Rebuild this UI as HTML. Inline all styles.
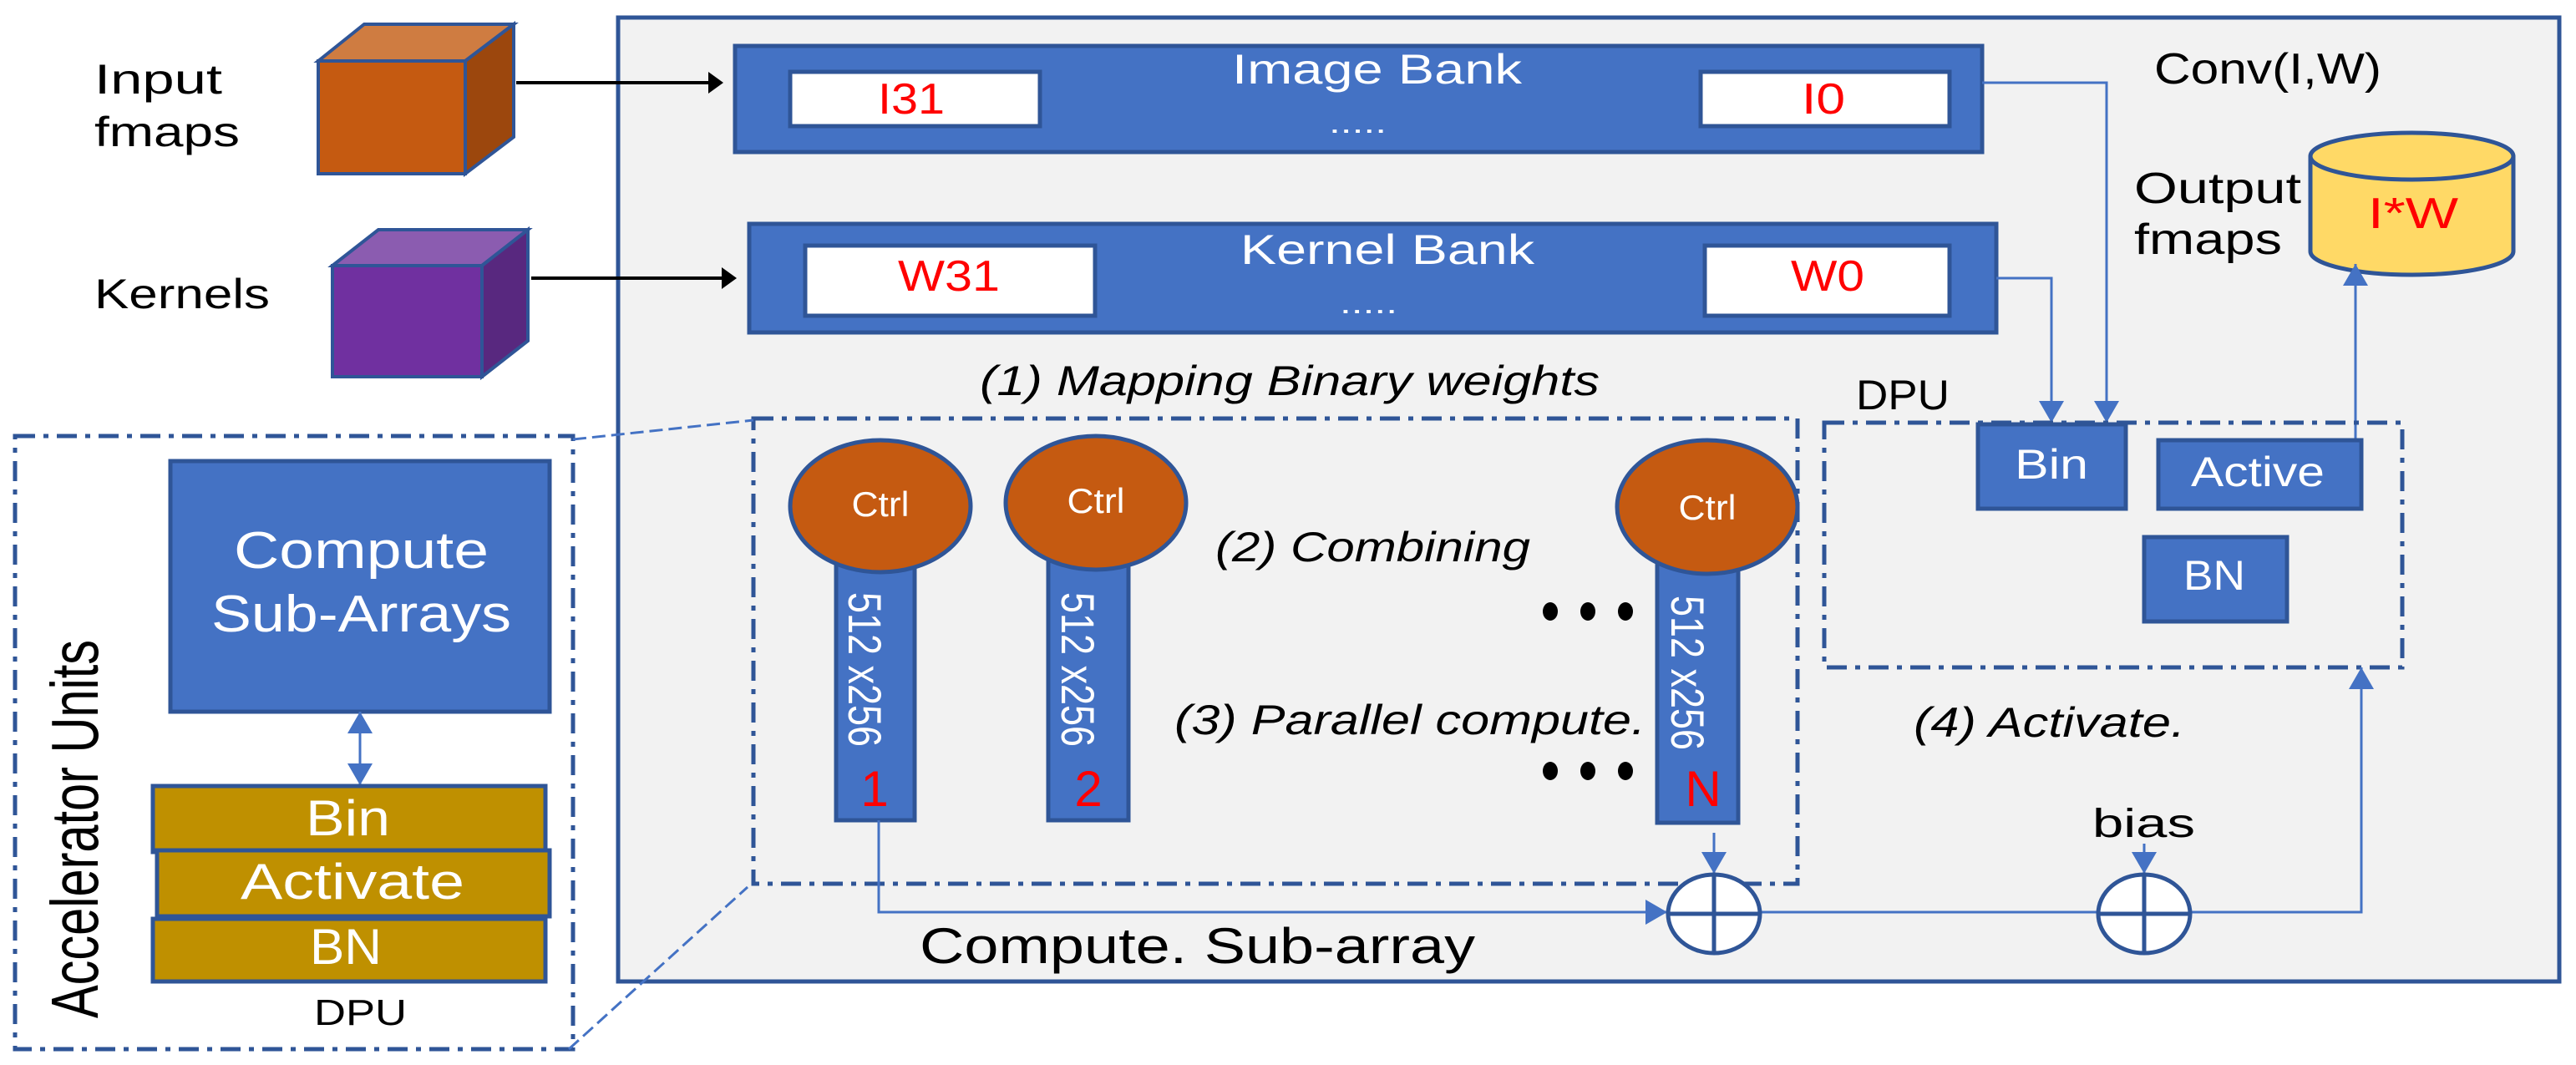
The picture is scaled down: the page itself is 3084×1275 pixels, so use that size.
<!DOCTYPE html>
<html><head><meta charset="utf-8"><style>
html,body{margin:0;padding:0;background:#fff;}
svg{display:block;}
text{font-family:"Liberation Sans",sans-serif;}
</style></head><body>
<svg width="3084" height="1275" viewBox="0 0 3084 1275" xmlns="http://www.w3.org/2000/svg">
<defs>
<marker id="bl" markerWidth="26" markerHeight="30" refX="26" refY="15" orient="auto" markerUnits="userSpaceOnUse" viewBox="0 0 26 30"><path d="M0,0 L26,15 L0,30 z" fill="#4472C4"/></marker>
</defs>
<rect x="740" y="21" width="2324" height="1154" fill="#F2F2F2" stroke="#2F5597" stroke-width="5"/>

<g stroke="#2F5597" stroke-width="4" stroke-linejoin="miter">
<polygon points="381,73 436,29 615,29 557,73" fill="#CF7C41"/>
<polygon points="557,73 615,29 615,164 557,208" fill="#9C470D"/>
<rect x="381" y="73" width="176" height="135" fill="#C55A11"/>
<polygon points="398,318 453,275 632,275 577,318" fill="#8B5CB0"/>
<polygon points="577,318 632,275 632,408 577,451" fill="#58287F"/>
<rect x="398" y="318" width="179" height="133" fill="#7030A0"/>
</g>
<text x="113" y="112" font-size="50" textLength="153" lengthAdjust="spacingAndGlyphs">Input</text>
<text x="113" y="175" font-size="50" textLength="174" lengthAdjust="spacingAndGlyphs">fmaps</text>
<text x="113" y="369" font-size="50" textLength="210" lengthAdjust="spacingAndGlyphs">Kernels</text>
<line x1="618" y1="99" x2="850" y2="99" stroke="#000" stroke-width="4"/>
<path d="M848,86 L866,99 L848,112 z" fill="#000"/>
<line x1="636" y1="333" x2="866" y2="333" stroke="#000" stroke-width="4"/>
<path d="M864,320 L882,333 L864,346 z" fill="#000"/>

<g stroke="#2F5597" stroke-width="5">
<rect x="880" y="55" width="1493" height="127" fill="#4472C4"/>
<rect x="946" y="86" width="299" height="65" fill="#fff"/>
<rect x="2036" y="86" width="298" height="65" fill="#fff"/>
<rect x="897" y="268" width="1493" height="130" fill="#4472C4"/>
<rect x="964" y="294" width="347" height="84" fill="#fff"/>
<rect x="2041" y="294" width="293" height="84" fill="#fff"/>
</g>
<text x="1475" y="100" font-size="50" fill="#fff" textLength="347" lengthAdjust="spacingAndGlyphs">Image Bank</text>
<text x="1591" y="159" font-size="36" fill="#fff" textLength="69" lengthAdjust="spacingAndGlyphs">.....</text>
<text x="1485" y="316" font-size="50" fill="#fff" textLength="352" lengthAdjust="spacingAndGlyphs">Kernel Bank</text>
<text x="1604" y="375" font-size="36" fill="#fff" textLength="69" lengthAdjust="spacingAndGlyphs">.....</text>
<text x="1091" y="136" font-size="52" fill="#FF0000" text-anchor="middle" textLength="80" lengthAdjust="spacingAndGlyphs">I31</text>
<text x="2183" y="136" font-size="52" fill="#FF0000" text-anchor="middle" textLength="52" lengthAdjust="spacingAndGlyphs">I0</text>
<text x="1136" y="348" font-size="52" fill="#FF0000" text-anchor="middle" textLength="122" lengthAdjust="spacingAndGlyphs">W31</text>
<text x="2188" y="348" font-size="52" fill="#FF0000" text-anchor="middle" textLength="88" lengthAdjust="spacingAndGlyphs">W0</text>

<text x="1173" y="473" font-size="50" font-style="italic" textLength="742" lengthAdjust="spacingAndGlyphs">(1) Mapping Binary weights</text>
<text x="2579" y="100" font-size="52" textLength="272" lengthAdjust="spacingAndGlyphs">Conv(I,W)</text>
<text x="2555" y="243" font-size="52" textLength="200" lengthAdjust="spacingAndGlyphs">Output</text>
<text x="2555" y="304" font-size="52" textLength="177" lengthAdjust="spacingAndGlyphs">fmaps</text>

<g stroke="#2F5597" stroke-width="5">
<path d="M2766,187 L2766,301 A121.5,28 0 0 0 3009,301 L3009,187" fill="#FFD966"/>
<ellipse cx="2887.5" cy="187" rx="121.5" ry="28" fill="#FFD966"/>
</g>
<text x="2835" y="273" font-size="52" fill="#FF0000" textLength="108" lengthAdjust="spacingAndGlyphs">I*W</text>

<g stroke="#4472C4" stroke-width="3" fill="none">
<polyline points="2373,99 2522,99 2522,506" marker-end="url(#bl)"/>
<polyline points="2390,333 2456,333 2456,506" marker-end="url(#bl)"/>
<line x1="2820" y1="527" x2="2820" y2="316" marker-end="url(#bl)"/>
</g>
<text x="2222" y="490" font-size="50" textLength="112" lengthAdjust="spacingAndGlyphs">DPU</text>

<g fill="none" stroke="#2F5597" stroke-width="5" stroke-dasharray="24 10 6 10">
<rect x="2184" y="506" width="692" height="293"/>
<rect x="902" y="501" width="1250" height="557"/>
<rect x="18" y="522" width="668" height="734"/>
</g>
<g stroke="#4472C4" stroke-width="3" stroke-dasharray="16 7" fill="none">
<line x1="686" y1="526" x2="902" y2="503"/>
<line x1="681" y1="1256" x2="895" y2="1062"/>
</g>
<g stroke="#2F5597" stroke-width="5" fill="#4472C4">
<rect x="2368" y="508" width="177" height="101"/>
<rect x="2584" y="527" width="243" height="82"/>
<rect x="2567" y="643" width="171" height="101"/>
</g>
<text x="2412" y="573" font-size="50" fill="#fff" textLength="88" lengthAdjust="spacingAndGlyphs">Bin</text>
<text x="2623" y="582" font-size="50" fill="#fff" textLength="160" lengthAdjust="spacingAndGlyphs">Active</text>
<text x="2614" y="706" font-size="50" fill="#fff" textLength="74" lengthAdjust="spacingAndGlyphs">BN</text>

<g stroke="#2F5597" stroke-width="5">
<rect x="1001" y="640" width="94" height="342" fill="#4472C4"/>
<rect x="1255" y="640" width="96" height="342" fill="#4472C4"/>
<rect x="1984" y="640" width="97" height="345" fill="#4472C4"/>
<ellipse cx="1054" cy="606" rx="108" ry="79" fill="#C55A11"/>
<ellipse cx="1312" cy="602" rx="108" ry="80" fill="#C55A11"/>
<ellipse cx="2044" cy="607" rx="108" ry="80" fill="#C55A11"/>
</g>
<text x="1054" y="618" font-size="42" fill="#fff" text-anchor="middle" textLength="69" lengthAdjust="spacingAndGlyphs">Ctrl</text>
<text x="1312" y="614" font-size="42" fill="#fff" text-anchor="middle" textLength="69" lengthAdjust="spacingAndGlyphs">Ctrl</text>
<text x="2044" y="622" font-size="42" fill="#fff" text-anchor="middle" textLength="69" lengthAdjust="spacingAndGlyphs">Ctrl</text>
<text transform="translate(1016,709) rotate(90)" font-size="56" fill="#fff" textLength="185" lengthAdjust="spacingAndGlyphs">512 x256</text>
<text transform="translate(1271,709) rotate(90)" font-size="56" fill="#fff" textLength="185" lengthAdjust="spacingAndGlyphs">512 x256</text>
<text transform="translate(2001,713) rotate(90)" font-size="56" fill="#fff" textLength="185" lengthAdjust="spacingAndGlyphs">512 x256</text>
<text x="1047" y="965" font-size="60" fill="#FF0000" text-anchor="middle">1</text>
<text x="1303" y="965" font-size="60" fill="#FF0000" text-anchor="middle">2</text>
<text x="2039" y="965" font-size="60" fill="#FF0000" text-anchor="middle">N</text>

<text x="1455" y="672" font-size="50" font-style="italic" textLength="377" lengthAdjust="spacingAndGlyphs">(2) Combining</text>
<text x="1406" y="879" font-size="50" font-style="italic" textLength="564" lengthAdjust="spacingAndGlyphs">(3) Parallel compute.</text>
<text x="2291" y="882" font-size="50" font-style="italic" textLength="325" lengthAdjust="spacingAndGlyphs">(4) Activate.</text>
<g fill="#000">
<ellipse cx="1856" cy="732" rx="9" ry="11"/><ellipse cx="1901" cy="732" rx="9" ry="11"/><ellipse cx="1946" cy="732" rx="9" ry="11"/>
<ellipse cx="1856" cy="923" rx="9" ry="11"/><ellipse cx="1901" cy="923" rx="9" ry="11"/><ellipse cx="1946" cy="923" rx="9" ry="11"/>
</g>

<g stroke="#4472C4" stroke-width="3" fill="none">
<polyline points="1052,982 1052,1092 1996,1092" marker-end="url(#bl)"/>
<line x1="2052" y1="997" x2="2052" y2="1046" marker-end="url(#bl)"/>
<line x1="2567" y1="1010" x2="2567" y2="1046" marker-end="url(#bl)"/>
<line x1="2107" y1="1092" x2="2511" y2="1092"/>
<polyline points="2622,1092 2827,1092 2827,799" marker-end="url(#bl)"/>
</g>
<g stroke="#2F5597" stroke-width="5" fill="#fff">
<ellipse cx="2052" cy="1094" rx="55" ry="47"/>
<ellipse cx="2567" cy="1094" rx="55" ry="47"/>
<line x1="1997" y1="1094" x2="2107" y2="1094"/><line x1="2052" y1="1047" x2="2052" y2="1141"/>
<line x1="2512" y1="1094" x2="2622" y2="1094"/><line x1="2567" y1="1047" x2="2567" y2="1141"/>
</g>
<text x="2505" y="1002" font-size="48" textLength="123" lengthAdjust="spacingAndGlyphs">bias</text>
<text x="1101" y="1153" font-size="60" textLength="665" lengthAdjust="spacingAndGlyphs">Compute. Sub-array</text>

<rect x="204" y="552" width="454" height="300" fill="#4472C4" stroke="#2F5597" stroke-width="5"/>
<text x="280" y="680" font-size="62" fill="#fff" textLength="305" lengthAdjust="spacingAndGlyphs">Compute</text>
<text x="253" y="756" font-size="62" fill="#fff" textLength="359" lengthAdjust="spacingAndGlyphs">Sub-Arrays</text>
<g stroke="#4472C4" stroke-width="3" fill="none">
<line x1="431" y1="880" x2="431" y2="940" marker-end="url(#bl)"/>
<line x1="431" y1="910" x2="431" y2="852" marker-end="url(#bl)"/>
</g>
<g stroke="#2F5597" stroke-width="5" fill="#BF9000">
<rect x="183" y="941" width="470" height="79"/>
<rect x="188" y="1018" width="470" height="79"/>
<rect x="183" y="1100" width="470" height="75"/>
</g>
<text x="366" y="1000" font-size="60" fill="#fff" textLength="101" lengthAdjust="spacingAndGlyphs">Bin</text>
<text x="288" y="1076" font-size="60" fill="#fff" textLength="268" lengthAdjust="spacingAndGlyphs">Activate</text>
<text x="371" y="1154" font-size="60" fill="#fff" textLength="86" lengthAdjust="spacingAndGlyphs">BN</text>
<text x="376" y="1227" font-size="44" textLength="111" lengthAdjust="spacingAndGlyphs">DPU</text>
<text transform="translate(117,1219) rotate(-90)" font-size="80" textLength="453" lengthAdjust="spacingAndGlyphs">Accelerator Units</text>
</svg>
</body></html>
